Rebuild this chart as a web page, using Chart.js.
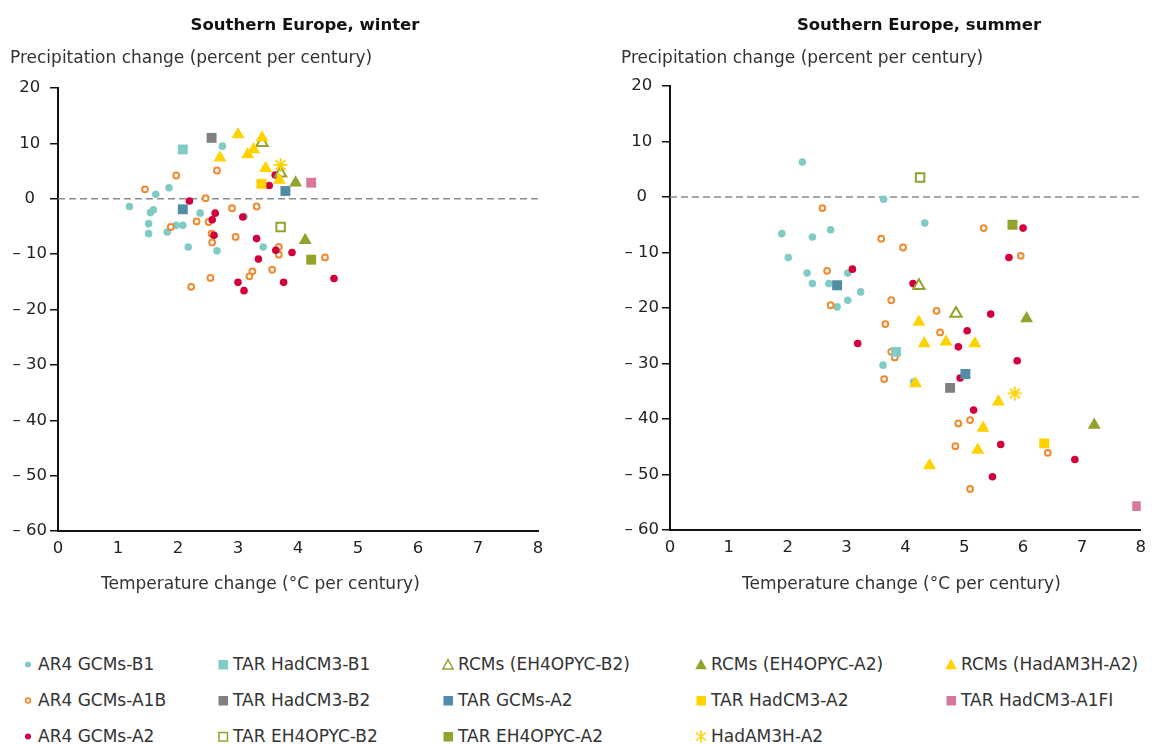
<!DOCTYPE html>
<html>
<head>
<meta charset="utf-8">
<script src="https://cdn.jsdelivr.net/npm/chart.js@4/dist/chart.umd.min.js"></script>
<style>
  body { margin: 0; background: #fff; font-family: "DejaVu Sans", Verdana, sans-serif; color: #222; }
  #wrap { position: relative; width: 1154px; height: 745px; overflow: hidden; background: #fff; }
  canvas { position: absolute; top: 0; }
  .txt { position: absolute; white-space: nowrap; line-height: 1; transform: translateY(-50%); }
  .title { font-weight: bold; font-size: 16.5px; transform: translate(-50%, -50%); color: #111; }
  .axis { font-size: 17px; color: #333; }
  .leg { position: absolute; font-size: 17px; color: #333; white-space: nowrap; line-height: 1; transform: translateY(-50%); }
  .leg svg { position: absolute; top: 50%; transform: translate(-50%, -50%); }
</style>
</head>
<body>
<div id="wrap">
  <canvas id="winter" width="577" height="600" style="left:0"></canvas>
  <canvas id="summer" width="577" height="600" style="left:577px"></canvas>

  <div class="txt title" style="left:305px;top:25px">Southern Europe, winter</div>
  <div class="txt title" style="left:919px;top:25px">Southern Europe, summer</div>
  <div class="txt axis" style="left:10px;top:57px">Precipitation change (percent per century)</div>
  <div class="txt axis" style="left:621px;top:57px">Precipitation change (percent per century)</div>
  <div class="txt axis" style="left:101px;top:583px">Temperature change (°C per century)</div>
  <div class="txt axis" style="left:742px;top:583px">Temperature change (°C per century)</div>

  <div id="legend"></div>
</div>

<script>
(function() {
  'use strict';

  // Axis ranges / ticks
  const X_MIN = 0, X_MAX = 8, X_STEP = 1;
  const Y_MIN = -60, Y_MAX = 20, Y_STEP = 10;
  const ZERO_LINE_Y = 0;

  // Series names, legend order (row by row)
  const SERIES = [
    'AR4 GCMs-B1', 'TAR HadCM3-B1', 'RCMs (EH4OPYC-B2)', 'RCMs (EH4OPYC-A2)', 'RCMs (HadAM3H-A2)',
    'AR4 GCMs-A1B', 'TAR HadCM3-B2', 'TAR GCMs-A2', 'TAR HadCM3-A2', 'TAR HadCM3-A1FI',
    'AR4 GCMs-A2', 'TAR EH4OPYC-B2', 'TAR EH4OPYC-A2', 'HadAM3H-A2'
  ];

  // ---- Winter: [temperature change, precipitation change] ----
  const winterAR4B1 = [[2.74, 9.5], [1.85, 2.0], [1.63, 0.8], [1.19, -1.4], [1.59, -2.0], [1.54, -2.5],
    [2.37, -2.6], [1.51, -4.5], [1.97, -4.8], [2.08, -4.8], [1.82, -6.0], [1.51, -6.3], [2.17, -8.7],
    [2.65, -9.4], [3.42, -8.7], [3.1, -3.2]];
  const winterAR4A1B = [[1.97, 4.2], [2.65, 5.1], [1.45, 1.7], [2.46, 0.1], [2.9, -1.7], [2.31, -4.1],
    [2.51, -4.2], [1.88, -5.1], [2.56, -6.3], [2.96, -6.9], [2.57, -7.9], [2.54, -14.3], [2.22, -15.9],
    [3.31, -1.4], [3.68, -8.7], [3.68, -10.1], [4.45, -10.6], [3.57, -12.8], [3.24, -13.1], [3.19, -14.0]];
  const winterAR4A2 = [[2.19, -0.4], [2.62, -2.6], [2.57, -3.8], [2.6, -6.6], [3.0, -15.1], [3.62, 4.3],
    [3.52, 2.4], [3.08, -3.3], [3.31, -7.2], [3.63, -9.3], [3.9, -9.7], [3.34, -10.9], [3.1, -16.6],
    [3.76, -15.1], [4.6, -14.4]];
  const winterHadCM3B1 = [[2.08, 8.9]];
  const winterHadCM3B2 = [[2.56, 11.0]];
  const winterEH4B2 = [[3.71, -5.1]];
  const winterRcmEH4B2 = [[3.4, 10.1], [3.71, 4.6]];
  const winterGcmsA2 = [[2.08, -1.9], [3.79, 1.4]];
  const winterEH4A2 = [[4.22, -11.0]];
  const winterRcmEH4A2 = [[3.96, 2.9], [4.12, -7.5]];
  const winterHadCM3A2 = [[3.39, 2.7]];
  const winterHadAM3H = [[3.71, 6.1]];
  const winterRcmHadAM3H = [[2.7, 7.4], [3.0, 11.6], [3.4, 11.0], [3.26, 8.9], [3.16, 8.0], [3.46, 5.5], [3.69, 3.4]];
  const winterHadCM3A1FI = [[4.22, 2.9]];

  // ---- Summer ----
  const summerAR4B1 = [[2.25, 6.3], [3.63, -0.4], [1.9, -6.6], [2.42, -7.2], [2.73, -5.9], [2.01, -10.9],
    [2.33, -13.7], [3.02, -13.7], [2.42, -15.6], [2.7, -15.6], [3.24, -17.1], [3.02, -18.6], [2.84, -19.8],
    [4.33, -4.7], [3.62, -30.3], [4.14, -33.3]];
  const summerAR4A1B = [[2.59, -2.0], [3.59, -7.5], [2.67, -13.3], [2.73, -19.5], [3.66, -22.9], [5.33, -5.6],
    [3.96, -9.1], [5.96, -10.6], [3.76, -18.6], [4.53, -20.5], [4.59, -24.4], [3.76, -27.9], [3.82, -28.9],
    [3.64, -32.8], [5.1, -40.2], [4.9, -40.8], [4.85, -44.9], [5.1, -52.6], [6.42, -46.1]];
  const summerAR4A2 = [[3.1, -13.0], [6.0, -5.6], [5.76, -10.9], [4.13, -15.6], [5.45, -21.1], [5.05, -24.1],
    [3.19, -26.4], [4.9, -27.0], [5.9, -29.5], [4.93, -32.6], [5.16, -38.4], [5.62, -44.6], [5.48, -50.4],
    [6.88, -47.3]];
  const summerHadCM3B1 = [[3.84, -27.9]];
  const summerHadCM3B2 = [[4.76, -34.4]];
  const summerEH4B2 = [[4.25, 3.5]];
  const summerRcmEH4B2 = [[4.23, -16.0], [4.86, -21.0]];
  const summerGcmsA2 = [[2.84, -15.9], [5.02, -31.9]];
  const summerEH4A2 = [[5.82, -5.0]];
  const summerRcmEH4A2 = [[6.06, -21.9], [7.21, -41.1]];
  const summerHadCM3A2 = [[6.36, -44.4]];
  const summerHadAM3H = [[5.86, -35.4]];
  const summerRcmHadAM3H = [[4.23, -22.5], [4.32, -26.4], [4.69, -26.1], [5.18, -26.4], [4.17, -33.6],
    [5.58, -36.9], [5.32, -41.6], [5.23, -45.6], [4.41, -48.4]];
  const summerHadCM3A1FI = [[7.94, -55.7]];

  const WINTER = {
    'AR4 GCMs-B1': winterAR4B1, 'AR4 GCMs-A1B': winterAR4A1B, 'AR4 GCMs-A2': winterAR4A2,
    'TAR HadCM3-B1': winterHadCM3B1, 'TAR HadCM3-B2': winterHadCM3B2, 'TAR EH4OPYC-B2': winterEH4B2,
    'RCMs (EH4OPYC-B2)': winterRcmEH4B2, 'TAR GCMs-A2': winterGcmsA2, 'TAR EH4OPYC-A2': winterEH4A2,
    'RCMs (EH4OPYC-A2)': winterRcmEH4A2, 'TAR HadCM3-A2': winterHadCM3A2, 'HadAM3H-A2': winterHadAM3H,
    'RCMs (HadAM3H-A2)': winterRcmHadAM3H, 'TAR HadCM3-A1FI': winterHadCM3A1FI
  };
  const SUMMER = {
    'AR4 GCMs-B1': summerAR4B1, 'AR4 GCMs-A1B': summerAR4A1B, 'AR4 GCMs-A2': summerAR4A2,
    'TAR HadCM3-B1': summerHadCM3B1, 'TAR HadCM3-B2': summerHadCM3B2, 'TAR EH4OPYC-B2': summerEH4B2,
    'RCMs (EH4OPYC-B2)': summerRcmEH4B2, 'TAR GCMs-A2': summerGcmsA2, 'TAR EH4OPYC-A2': summerEH4A2,
    'RCMs (EH4OPYC-A2)': summerRcmEH4A2, 'TAR HadCM3-A2': summerHadCM3A2, 'HadAM3H-A2': summerHadAM3H,
    'RCMs (HadAM3H-A2)': summerRcmHadAM3H, 'TAR HadCM3-A1FI': summerHadCM3A1FI
  };

  const TEAL = '#80cbc6', ORANGE = '#ef8a2e', RED = '#d1003d', GREY = '#808080';
  const STEEL = '#4f8ca6', OLIVE = '#94a12a', YELLOW = '#ffd200', PINK = '#d6799c';

  // marker styles per series
  const STYLE = {
    'AR4 GCMs-B1':       { shape: 'circle',   r: 3.8, fill: TEAL,   stroke: TEAL,   bw: 0 },
    'AR4 GCMs-A1B':      { shape: 'circle',   r: 2.9, fill: '#fff', stroke: ORANGE, bw: 2 },
    'AR4 GCMs-A2':       { shape: 'circle',   r: 3.8, fill: RED,    stroke: RED,    bw: 0 },
    'TAR HadCM3-B1':     { shape: 'rect',     r: 7,   fill: TEAL,   stroke: TEAL,   bw: 0 },
    'TAR HadCM3-B2':     { shape: 'rect',     r: 7,   fill: GREY,   stroke: GREY,   bw: 0 },
    'TAR EH4OPYC-B2':    { shape: 'rect',     r: 6,   fill: '#fff', stroke: OLIVE,  bw: 2 },
    'TAR GCMs-A2':       { shape: 'rect',     r: 7,   fill: STEEL,  stroke: STEEL,  bw: 0 },
    'TAR EH4OPYC-A2':    { shape: 'rect',     r: 7,   fill: OLIVE,  stroke: OLIVE,  bw: 0 },
    'TAR HadCM3-A2':     { shape: 'rect',     r: 7,   fill: YELLOW, stroke: YELLOW, bw: 0 },
    'TAR HadCM3-A1FI':   { shape: 'rect',     r: 7,   fill: PINK,   stroke: PINK,   bw: 0 },
    'RCMs (EH4OPYC-B2)': { shape: 'triangle', r: 6.5, fill: '#fff', stroke: OLIVE,  bw: 2 },
    'RCMs (EH4OPYC-A2)': { shape: 'triangle', r: 7.5, fill: OLIVE,  stroke: OLIVE,  bw: 0 },
    'RCMs (HadAM3H-A2)': { shape: 'triangle', r: 7.5, fill: YELLOW, stroke: YELLOW, bw: 0 },
    'HadAM3H-A2':        { shape: 'star',     r: 7,   fill: YELLOW, stroke: YELLOW, bw: 1.8 }
  };

  // bottom -> top drawing order
  const DRAW_ORDER = [
    'AR4 GCMs-B1', 'AR4 GCMs-A1B', 'AR4 GCMs-A2',
    'TAR HadCM3-B1', 'TAR HadCM3-B2', 'TAR EH4OPYC-B2', 'TAR GCMs-A2', 'TAR EH4OPYC-A2',
    'TAR HadCM3-A2', 'TAR HadCM3-A1FI',
    'RCMs (EH4OPYC-B2)', 'RCMs (EH4OPYC-A2)', 'RCMs (HadAM3H-A2)', 'HadAM3H-A2'
  ];

  const FONT = 'DejaVu Sans';

  function makeChart(id, season, pad, xAxisHeight) {
    const datasets = DRAW_ORDER.map((name, i) => {
      const st = STYLE[name];
      return {
        label: name,
        data: season[name].map(p => ({ x: p[0], y: p[1] })),
        pointStyle: st.shape,
        pointRadius: st.r,
        pointHoverRadius: st.r,
        pointBackgroundColor: st.fill,
        pointBorderColor: st.stroke,
        pointBorderWidth: st.bw,
        showLine: false,
        order: 50 - i
      };
    });
    // dashed zero reference line
    datasets.push({
      type: 'line',
      label: 'zero',
      data: [{ x: X_MIN, y: ZERO_LINE_Y }, { x: X_MAX, y: ZERO_LINE_Y }],
      borderColor: '#8c8c8c',
      borderWidth: 1.6,
      borderDash: [7, 4],
      pointRadius: 0,
      fill: false,
      order: 100
    });

    return new Chart(document.getElementById(id), {
      type: 'scatter',
      data: { datasets },
      options: {
        responsive: false,
        animation: false,
        events: [],
        layout: { padding: pad },
        plugins: { legend: { display: false }, tooltip: { enabled: false } },
        scales: {
          x: {
            type: 'linear',
            min: X_MIN,
            max: X_MAX,
            afterFit: (s) => { s.height = xAxisHeight; },
            ticks: { stepSize: X_STEP, color: '#222', padding: 8, maxRotation: 0, font: { family: FONT, size: 16.5 } },
            grid: { display: false, drawTicks: false },
            border: { display: true, color: '#111', width: 2 }
          },
          y: {
            min: Y_MIN,
            max: Y_MAX,
            afterFit: (s) => { s.width = 58; },
            ticks: {
              stepSize: Y_STEP,
              color: '#222',
              crossAlign: 'center',
              padding: 3,
              font: { family: FONT, size: 16.5 },
              callback: (v) => v < 0 ? '\u2013 ' + Math.abs(v) : String(v)
            },
            grid: { drawOnChartArea: false, drawTicks: true, tickLength: 8, color: '#111', lineWidth: 1.5 },
            border: { display: true, color: '#111', width: 2 }
          }
        }
      }
    });
  }

  makeChart('winter', WINTER, { left: 0, right: 39, top: 88, bottom: 0 }, 69);
  makeChart('summer', SUMMER, { left: 35, right: 5, top: 86, bottom: 0 }, 70);

  // ---- HTML legend ----
  const LEG_MARK_X = [28, 223, 448, 701, 951];
  const LEG_ROW_Y = [664, 700, 736];

  function markerSvg(name) {
    const st = STYLE[name];
    const c = st.stroke;
    let inner = '';
    if (name === 'AR4 GCMs-A1B') {
      inner = `<circle cx="7" cy="7" r="2.4" fill="#fff" stroke="${c}" stroke-width="1.7"/>`;
    } else if (st.shape === 'circle') {
      inner = `<circle cx="7" cy="7" r="3" fill="${c}"/>`;
    } else if (st.shape === 'rect') {
      inner = st.fill === '#fff'
        ? `<rect x="3" y="3" width="8.5" height="8.5" fill="#fff" stroke="${c}" stroke-width="1.5"/>`
        : `<rect x="2.5" y="2.5" width="9.5" height="9.5" fill="${c}"/>`;
    } else if (st.shape === 'triangle') {
      inner = st.fill === '#fff'
        ? `<polygon points="7,2 12,11.5 2,11.5" fill="#fff" stroke="${c}" stroke-width="1.5"/>`
        : `<polygon points="7,1.2 12.8,11.8 1.2,11.8" fill="${c}"/>`;
    } else {
      inner = `<g stroke="${c}" stroke-width="1.6"><line x1="7" y1="1" x2="7" y2="13"/>` +
        `<line x1="2" y1="3" x2="12" y2="11"/><line x1="12" y1="3" x2="2" y2="11"/></g>`;
    }
    return `<svg width="14" height="14" viewBox="0 0 14 14" style="left:-10px">${inner}</svg>`;
  }

  const legend = document.getElementById('legend');
  SERIES.forEach((name, i) => {
    const col = i % 5, row = Math.floor(i / 5);
    const el = document.createElement('div');
    el.className = 'leg';
    el.style.left = (LEG_MARK_X[col] + 10) + 'px';
    el.style.top = LEG_ROW_Y[row] + 'px';
    el.innerHTML = markerSvg(name) + name;
    legend.appendChild(el);
  });
})();
</script>
</body>
</html>
